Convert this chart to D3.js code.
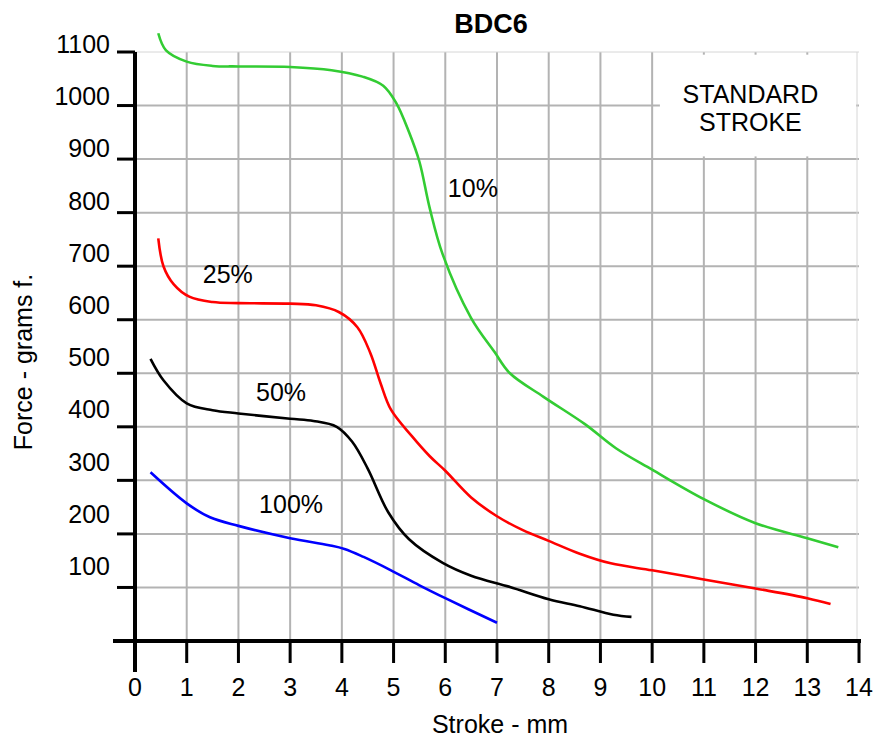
<!DOCTYPE html>
<html lang="en">
<head>
  <meta charset="UTF-8">
  <title>BDC6</title>
  <script src="https://d3js.org/d3.v7.min.js"></script>
  <style>
    body { margin: 0; background: #fff; }
    text { font-family: "Liberation Sans", Arial, sans-serif; fill: #000; }
  </style>
</head>
<body>
  <div id="chart"></div>
  <script>
    // Force (grams f.) vs stroke (mm)
    const series10 = [[0.45,1135],[0.6,1103],[1.0,1082],[1.5,1074],[2,1073],[3,1072],[3.8,1066],[4.4,1054],[4.8,1037],[5.05,1005],[5.3,950],[5.5,895],[5.7,808],[5.95,722],[6.5,603],[6.95,540],[7.25,500],[7.9,456],[8.7,405],[9.3,360],[10,320],[11,265],[12,220],[13,192],[13.6,175]];
    const series25 = [[0.45,752],[0.55,700],[0.75,666],[1.05,643],[1.5,633],[2,631],[3,630],[3.5,627],[3.95,614],[4.3,586],[4.55,538],[4.75,481],[4.95,432],[5.35,383],[5.7,345],[6,318],[6.5,268],[7,233],[7.5,207],[8,187],[8.6,163],[9.2,145],[10,132],[11,115],[12,98],[13,80],[13.45,69]];
    const series50 = [[0.3,527],[0.55,487],[1,444],[1.5,431],[2,425],[3,415],[3.45,411],[3.9,400],[4.2,372],[4.5,322],[4.9,240],[5.3,190],[5.95,146],[6.5,122],[7.25,101],[8,78],[8.6,65],[9.25,49],[9.6,45]];
    const series100 = [[0.3,315],[1,257],[1.45,231],[2,215],[3,192],[3.75,179],[4.05,172],[4.42,157],[4.95,132],[5.5,104],[6,80],[7,34]];

    const seriesColors = ['#33cc33', '#ff0000', '#000000', '#0000ff'];
    const seriesLabels = ['10%', '25%', '50%', '100%'];
    // label anchor positions in data units (stroke mm, force)
    const labelPos = [[6.05, 830], [1.31, 668], [2.34, 448], [2.4, 239]];

    const xTicks = d3.range(0, 15);
    const yTicks = d3.range(100, 1200, 100);

    const width = 875, height = 740;

    const x = d3.scaleLinear().domain([0, 14]).range([135, 859]);
    const y = d3.scaleLinear().domain([0, 1100]).range([641, 52]);
    // tick labels sit slightly off the ticks in the original
    const yLab = d3.scaleLinear().domain([100, 1100]).range([575, 53]);

    const svg = d3.select('#chart')
      .append('svg')
      .attr('width', width)
      .attr('height', height);

    // grid
    const grid = svg.append('g');
    grid.selectAll('line.h')
      .data(yTicks.filter(d => d < 1100))
      .enter()
      .append('line')
      .attr('x1', x(0)).attr('x2', x(14))
      .attr('y1', d => y(d)).attr('y2', d => y(d))
      .attr('stroke', '#b3b3b3').attr('stroke-width', 2);
    grid.selectAll('line.v')
      .data(xTicks.filter(d => d > 0 && d < 14))
      .enter()
      .append('line')
      .attr('x1', d => x(d)).attr('x2', d => x(d))
      .attr('y1', y(1100)).attr('y2', y(0))
      .attr('stroke', '#b3b3b3').attr('stroke-width', 2);
    // thin border top & right
    grid.append('line')
      .attr('x1', x(0)).attr('x2', x(14))
      .attr('y1', y(1100)).attr('y2', y(1100))
      .attr('stroke', '#d6d6d6').attr('stroke-width', 1);
    grid.append('line')
      .attr('x1', x(14) - 2).attr('x2', x(14) - 2)
      .attr('y1', y(1100)).attr('y2', y(0))
      .attr('stroke', '#d6d6d6').attr('stroke-width', 1);

    // white box for the note
    svg.append('rect')
      .attr('x', x(10.15)).attr('y', y(1095))
      .attr('width', x(14) - 3 - x(10.15))
      .attr('height', y(905) - y(1095))
      .attr('fill', '#fff');
    svg.append('text')
      .attr('x', x(11.9)).attr('y', y(1005))
      .attr('text-anchor', 'middle')
      .style('font-size', '25px')
      .text('STANDARD');
    svg.append('text')
      .attr('x', x(11.9)).attr('y', y(952))
      .attr('text-anchor', 'middle')
      .style('font-size', '25px')
      .text('STROKE');

    // axes
    const axes = svg.append('g').attr('stroke', '#000');
    axes.append('line')
      .attr('x1', x(0)).attr('x2', x(0))
      .attr('y1', y(1100)).attr('y2', y(0) + 31)
      .attr('stroke-width', 4);
    axes.append('line')
      .attr('x1', x(0) - 22).attr('x2', x(14) + 2)
      .attr('y1', y(0)).attr('y2', y(0))
      .attr('stroke-width', 4);
    axes.selectAll('line.yt')
      .data(yTicks)
      .enter()
      .append('line')
      .attr('x1', x(0) - 18).attr('x2', x(0))
      .attr('y1', d => y(d)).attr('y2', d => y(d))
      .attr('stroke-width', 3);
    axes.selectAll('line.xt')
      .data(xTicks.filter(d => d > 0))
      .enter()
      .append('line')
      .attr('x1', d => x(d)).attr('x2', d => x(d))
      .attr('y1', y(0)).attr('y2', y(0) + 22)
      .attr('stroke-width', 3);

    svg.selectAll('text.yl')
      .data(yTicks)
      .enter()
      .append('text')
      .attr('x', 110)
      .attr('y', d => yLab(d))
      .attr('text-anchor', 'end')
      .style('font-size', '25px')
      .text(d => d);
    svg.selectAll('text.xl')
      .data(xTicks)
      .enter()
      .append('text')
      .attr('x', d => x(d))
      .attr('y', 696)
      .attr('text-anchor', 'middle')
      .style('font-size', '25px')
      .text(d => d);

    // curves
    const line = d3.line()
      .x(d => x(d[0]))
      .y(d => y(d[1]))
      .curve(d3.curveCatmullRom.alpha(0.5));

    [series10, series25, series50, series100].forEach((s, i) => {
      svg.append('path')
        .datum(s)
        .attr('d', line)
        .attr('fill', 'none')
        .attr('stroke', seriesColors[i])
        .attr('stroke-width', 2.6);
    });

    svg.selectAll('text.sl')
      .data(seriesLabels)
      .enter()
      .append('text')
      .attr('x', (d, i) => x(labelPos[i][0]))
      .attr('y', (d, i) => y(labelPos[i][1]))
      .style('font-size', '25px')
      .text(d => d);

    // titles
    svg.append('text')
      .attr('x', 491).attr('y', 33)
      .attr('text-anchor', 'middle')
      .style('font-size', '27px')
      .style('font-weight', 'bold')
      .text('BDC6');
    svg.append('text')
      .attr('x', 500).attr('y', 733)
      .attr('text-anchor', 'middle')
      .style('font-size', '25px')
      .text('Stroke - mm');
    svg.append('text')
      .attr('transform', 'translate(32,362) rotate(-90)')
      .attr('text-anchor', 'middle')
      .style('font-size', '25px')
      .text('Force - grams f.');
  </script>
</body>
</html>
